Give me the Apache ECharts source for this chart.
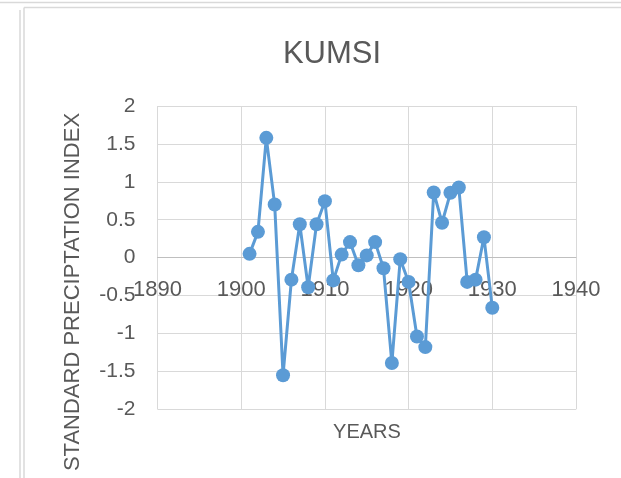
<!DOCTYPE html>
<html>
<head>
<meta charset="utf-8">
<script src="https://cdn.jsdelivr.net/npm/echarts@6/dist/echarts.min.js"></script>
<style>
html, body { margin: 0; padding: 0; background: #fff; }
#main { width: 621px; height: 478px; }
</style>
</head>
<body>
<div id="main"></div>
<script>
const years = [1901, 1902, 1903, 1904, 1905, 1906, 1907, 1908, 1909, 1910,
	1911, 1912, 1913, 1914, 1915, 1916, 1917, 1918, 1919, 1920,
	1921, 1922, 1923, 1924, 1925, 1926, 1927, 1928, 1929, 1930];
const spi = [0.05, 0.34, 1.58, 0.70, -1.55, -0.29, 0.44, -0.39, 0.44, 0.745,
	-0.30, 0.04, 0.205, -0.10, 0.03, 0.205, -0.14, -1.39, -0.02, -0.32,
	-1.04, -1.18, 0.86, 0.46, 0.855, 0.925, -0.32, -0.29, 0.27, -0.66];

const font = 'Liberation Sans';
const grey = '#595959';

echarts.init(document.getElementById('main')).setOption({
	animation: false,
	title: {
		text: 'KUMSI',
		left: 327,
		top: 34,
		textAlign: 'center',
		textStyle: { fontFamily: font, fontSize: 31, fontWeight: 'normal', color: grey },
	},
	grid: { left: 157.5, right: 45, top: 106, bottom: 68.7 },
	xAxis: {
		type: 'value',
		min: 1890,
		max: 1940,
		interval: 10,
		offset: -152, // excel puts the axis where y = 0
		axisLine: { onZero: false, lineStyle: { color: '#bfbfbf', width: 1 } },
		axisTick: { show: false },
		axisLabel: { margin: 22, fontFamily: font, fontSize: 22, color: grey, formatter: v => String(v) },
		splitLine: { lineStyle: { color: '#d9d9d9', width: 1 } },
	},
	yAxis: {
		type: 'value',
		min: -2,
		max: 2,
		interval: 0.5,
		axisLine: { show: false },
		axisTick: { show: false },
		axisLabel: { margin: 22, fontFamily: font, fontSize: 21, color: grey },
		splitLine: { lineStyle: { color: '#d9d9d9', width: 1 } },
	},
	graphic: [
		{ type: 'line', shape: { x1: 0, y1: 2.5, x2: 621, y2: 2.5 }, style: { stroke: '#d9d9d9', lineWidth: 1.5 } },
		{ type: 'line', shape: { x1: 24, y1: 7.5, x2: 621, y2: 7.5 }, style: { stroke: '#d9d9d9', lineWidth: 1.5 } },
		{ type: 'line', shape: { x1: 20, y1: 10, x2: 20, y2: 478 }, style: { stroke: '#d9d9d9', lineWidth: 1.5 } },
		{ type: 'line', shape: { x1: 24, y1: 7.5, x2: 24, y2: 478 }, style: { stroke: '#d9d9d9', lineWidth: 1.5 } },
		{
			type: 'text',
			x: 73,
			y: 292,
			rotation: Math.PI / 2,
			style: {
				text: 'STANDARD PRECIPTATION INDEX',
				fontFamily: font,
				fontSize: 22,
				fill: grey,
				textAlign: 'center',
				textVerticalAlign: 'middle',
			},
		},
		{
			type: 'text',
			x: 367,
			y: 432,
			style: {
				text: 'YEARS',
				fontFamily: font,
				fontSize: 20,
				fill: grey,
				textAlign: 'center',
				textVerticalAlign: 'middle',
			},
		},
	],
	series: [{
		type: 'line',
		data: years.map((y, i) => [y, spi[i]]),
		symbol: 'circle',
		symbolSize: 14,
		lineStyle: { color: '#5b9bd5', width: 3 },
		itemStyle: { color: '#5b9bd5' },
	}],
});
</script>
</body>
</html>
